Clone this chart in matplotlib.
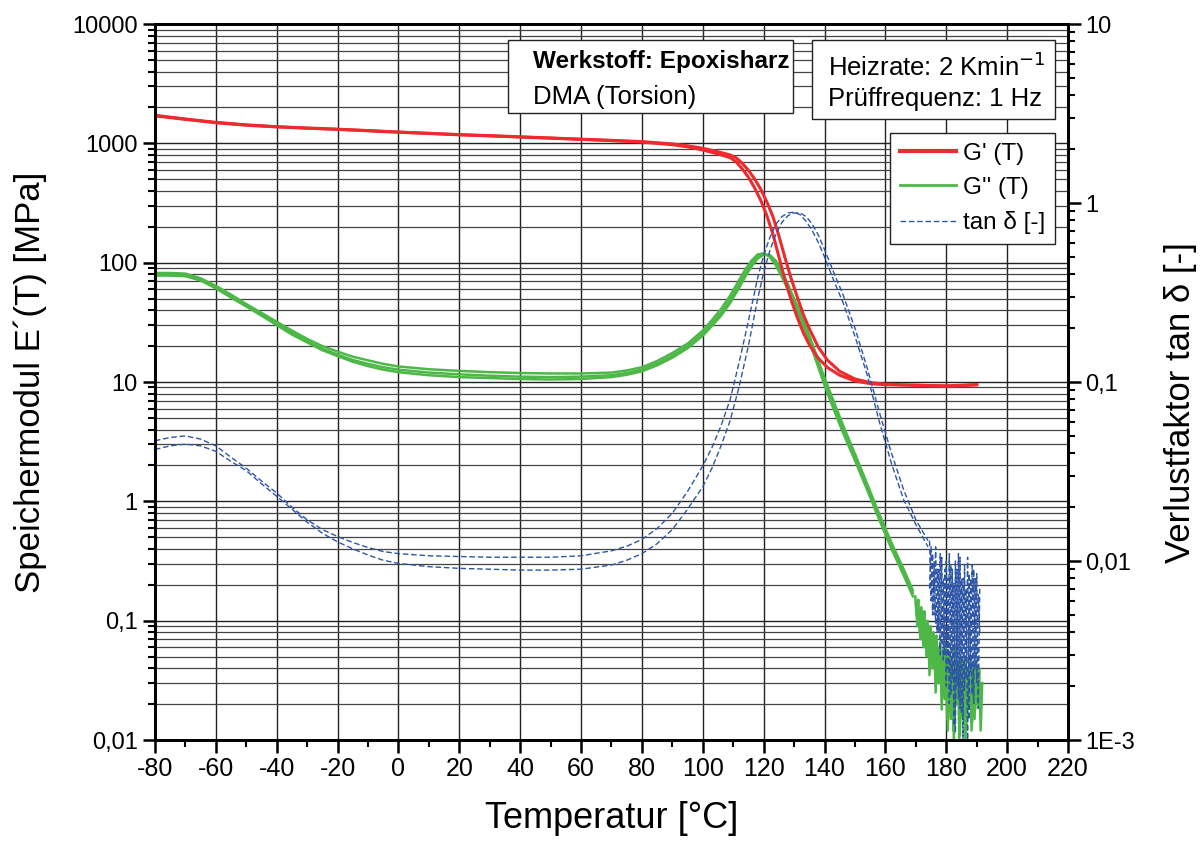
import matplotlib
matplotlib.use("Agg")
import matplotlib.pyplot as plt
from matplotlib.patches import Rectangle
from matplotlib.ticker import FixedLocator, FixedFormatter, LogLocator, NullFormatter

plt.rcParams["font.family"] = ["Liberation Sans", "DejaVu Sans"]
plt.rcParams["axes.unicode_minus"] = False

# G' (storage modulus), two runs
T_gp = [-80, -70, -60, -50, -40, -30, -20, -10, 0, 10, 20, 30, 40, 50, 60, 70, 80, 90, 95,
        100, 105, 109, 111, 113, 115, 117, 119, 121, 123, 125, 127, 129, 131, 133, 135, 138,
        141, 145, 150, 155, 160, 170, 180, 190]
gp_run1 = [1700, 1590, 1490, 1420, 1375, 1340, 1310, 1275, 1240, 1210, 1180, 1155, 1130, 1105,
           1080, 1055, 1025, 975, 935, 880, 815, 760, 700, 610, 520, 425, 335, 250, 175, 112,
           72, 49, 35, 26, 20.5, 15.8, 13.2, 11.4, 10.2, 9.7, 9.5, 9.4, 9.3, 9.5]
gp_run2 = [1720, 1600, 1500, 1430, 1380, 1345, 1315, 1280, 1245, 1215, 1185, 1160, 1135, 1110,
           1085, 1060, 1035, 990, 955, 910, 850, 800, 755, 680, 595, 505, 415, 325, 245, 168,
           110, 74, 52, 37, 28, 19.5, 15.2, 12.3, 10.6, 9.9, 9.6, 9.4, 9.2, 9.5]

# G'' (loss modulus), three runs
T_g = [-80, -75, -70, -65, -60, -55, -50, -45, -40, -35, -30, -25, -20, -15, -10, -5, 0, 10, 20,
       30, 40, 50, 60, 70, 75, 80, 85, 90, 95, 100, 103, 106, 109, 112, 114, 116, 118, 120, 122,
       124, 126, 128, 130, 132, 134, 136, 138, 140, 143, 146, 150, 154, 158, 162, 166, 169]
gpp_run1 = [82, 82, 81, 74, 64, 54, 45, 38, 32, 27, 23, 20, 18, 16.3, 15.2, 14.2, 13.5, 12.8,
            12.4, 12.1, 11.9, 11.8, 11.8, 12.0, 12.5, 13.3, 15.0, 17.5, 21, 27, 33, 41, 53, 72,
            88, 104, 117, 120, 112, 95, 76, 59, 45, 34, 25.5, 18.5, 13.2, 9.4, 5.9, 3.8, 2.2,
            1.25, 0.7, 0.4, 0.24, 0.16]
gpp_run2 = [80, 80, 79, 72, 62, 52, 44, 37, 31, 26, 22, 19, 17, 15.3, 14.2, 13.3, 12.7, 12.0,
            11.6, 11.3, 11.1, 11.0, 11.1, 11.4, 11.9, 12.7, 14.3, 16.6, 20, 25.5, 31, 38, 49,
            66, 81, 97, 112, 119, 114, 100, 81, 63, 48, 37, 27.5, 20, 14.4, 10.2, 6.5, 4.2,
            2.4, 1.35, 0.75, 0.43, 0.26, 0.17]
gpp_run3 = [78, 78, 77, 71, 61, 51, 43, 36, 30, 25, 21.5, 18.5, 16.5, 14.8, 13.6, 12.7, 12.1,
            11.4, 11.0, 10.8, 10.6, 10.5, 10.6, 11.0, 11.5, 12.3, 13.8, 16.0, 19.2, 24.5, 29.5,
            36, 46, 62, 77, 93, 108, 117, 116, 104, 85, 66, 50, 38.5, 28.5, 21, 15, 10.8, 6.9,
            4.4, 2.5, 1.4, 0.78, 0.45, 0.27, 0.18]
T_gn1 = [170, 170.5, 171, 171.5, 172, 172.5, 173, 173.5, 174, 174.5, 175, 175.5, 176, 176.5, 177,
         177.5, 178, 178.5, 179, 179.5, 180, 180.5, 181, 181.5, 182, 182.5, 183, 183.5, 184,
         184.5, 185, 185.5, 186, 186.5, 187, 187.5, 188, 188.5, 189, 189.5, 190, 190.5, 191]
gn_run1 = [0.14, 0.09, 0.12, 0.07, 0.11, 0.06, 0.10, 0.05, 0.09, 0.035, 0.08, 0.04, 0.07, 0.025,
           0.06, 0.03, 0.065, 0.018, 0.05, 0.022, 0.045, 0.012, 0.055, 0.015, 0.04, 0.01, 0.05,
           0.02, 0.045, 0.011, 0.04, 0.015, 0.05, 0.012, 0.035, 0.02, 0.045, 0.014, 0.04, 0.018,
           0.035, 0.02, 0.03]
T_gn2 = [169.8, 170.3, 170.8, 171.3, 171.8, 172.3, 172.8, 173.3, 173.8, 174.3, 174.8, 175.3,
         175.8, 176.3, 176.8, 177.3, 177.8, 178.3, 178.8, 179.3, 179.8, 180.3, 180.8, 181.3, 181.8,
         182.3, 182.8, 183.3, 183.8, 184.3, 184.8, 185.3, 185.8, 186.3, 186.8, 187.3, 187.8,
         188.3, 188.8, 189.3, 189.8, 190.3, 190.8, 191.3, 191.8]
gn_run2 = [0.16, 0.11, 0.15, 0.08, 0.13, 0.09, 0.12, 0.06, 0.10, 0.07, 0.09, 0.045, 0.08, 0.05,
           0.075, 0.03, 0.06, 0.04, 0.055, 0.025, 0.06, 0.015, 0.05, 0.03, 0.045, 0.012, 0.06,
           0.025, 0.04, 0.01, 0.05, 0.02, 0.045, 0.01, 0.04, 0.025, 0.05, 0.012, 0.035, 0.015,
           0.045, 0.02, 0.04, 0.012, 0.03]

# tan delta (loss factor), two runs
T_t = [-80, -75, -70, -65, -60, -55, -50, -45, -40, -35, -30, -25, -20, -15, -10, -5, 0, 10, 20,
       30, 40, 50, 60, 70, 75, 80, 85, 90, 95, 100, 103, 106, 109, 112, 115, 118, 120, 122, 124,
       126, 128, 130, 132, 134, 136, 138, 140, 143, 146, 150, 154, 158, 162, 166, 170, 174]
tan_run1 = [0.047, 0.049, 0.050, 0.048, 0.044, 0.038, 0.033, 0.028, 0.024, 0.020, 0.0170,
            0.0150, 0.0137, 0.0127, 0.0119, 0.0113, 0.0110, 0.0107, 0.0106, 0.0105, 0.0105,
            0.0105, 0.0107, 0.0114, 0.0121, 0.0132, 0.0152, 0.0185, 0.0245, 0.034, 0.043,
            0.057, 0.080, 0.13, 0.22, 0.38, 0.51, 0.64, 0.76, 0.84, 0.88, 0.89, 0.86, 0.79,
            0.70, 0.60, 0.50, 0.37, 0.28, 0.18, 0.11, 0.060, 0.035, 0.022, 0.016, 0.012]
tan_run2 = [0.042, 0.044, 0.045, 0.044, 0.041, 0.036, 0.032, 0.027, 0.023, 0.0195, 0.0165,
            0.0143, 0.0128, 0.0117, 0.0108, 0.0101, 0.0097, 0.0093, 0.0091, 0.0090, 0.0089,
            0.0089, 0.0090, 0.0095, 0.0101, 0.0110, 0.0125, 0.0150, 0.0195, 0.026, 0.033,
            0.044, 0.061, 0.095, 0.16, 0.29, 0.41, 0.54, 0.67, 0.78, 0.85, 0.88, 0.88, 0.84,
            0.76, 0.66, 0.55, 0.41, 0.31, 0.20, 0.12, 0.068, 0.040, 0.025, 0.017, 0.013]
T_tn = [174.5, 175, 175.5, 176, 176.5, 177, 177.5, 178, 178.5, 179, 179.5, 180, 180.5, 181,
        181.5, 182, 182.5, 183, 183.5, 184, 184.5, 185, 185.5, 186, 186.5, 187, 187.5, 188,
        188.5, 189, 189.5, 190, 190.5, 191]
tn_run1 = [0.007, 0.012, 0.005, 0.010, 0.0045, 0.009, 0.004, 0.011, 0.0035, 0.008, 0.003, 0.010,
           0.0025, 0.011, 0.0018, 0.009, 0.0012, 0.010, 0.002, 0.011, 0.0015, 0.008, 0.001,
           0.0095, 0.0022, 0.0105, 0.0013, 0.008, 0.0018, 0.009, 0.0025, 0.0085, 0.0015, 0.007]
tn_run2 = [0.013, 0.006, 0.011, 0.005, 0.012, 0.004, 0.009, 0.003, 0.0105, 0.0028, 0.009,
           0.002, 0.008, 0.0016, 0.0095, 0.0022, 0.0075, 0.0011, 0.009, 0.0017, 0.0105, 0.0014,
           0.008, 0.0019, 0.007, 0.001, 0.0085, 0.0024, 0.0095, 0.0016, 0.008, 0.0021, 0.0065,
           0.004]

left_ticks = [0.01, 0.1, 1, 10, 100, 1000, 10000]
left_labels = ["0,01", "0,1", "1", "10", "100", "1000", "10000"]
right_ticks = [0.001, 0.01, 0.1, 1, 10]
right_labels = ["1E-3", "0,01", "0,1", "1", "10"]
x_ticks = [-80, -60, -40, -20, 0, 20, 40, 60, 80, 100, 120, 140, 160, 180, 200, 220]

red = "#ee2a2e"
green = "#4db848"
blue = "#2e56a6"
dash = (0, (4, 2))

fig = plt.figure(figsize=(12.03, 8.44), dpi=100)
ax = fig.add_axes([0.1288, 0.1232, 0.759, 0.8483])
ax2 = ax.twinx()

ax.set_yscale("log")
ax.set_xlim(-80, 220)
ax.set_ylim(0.01, 10000)
ax2.set_yscale("log")
ax2.set_ylim(0.001, 10)

ax.plot(T_gp, gp_run1, color=red, lw=2.2, zorder=4)
ax.plot(T_gp, gp_run2, color=red, lw=2.2, zorder=4)
ax.plot(T_g, gpp_run1, color=green, lw=1.8, zorder=3)
ax.plot(T_g, gpp_run2, color=green, lw=1.8, zorder=3)
ax.plot(T_g, gpp_run3, color=green, lw=1.8, zorder=3)
ax.plot(T_gn1, gn_run1, color=green, lw=1.8, zorder=3)
ax.plot(T_gn2, gn_run2, color=green, lw=1.8, zorder=3)
ax2.plot(T_t, tan_run1, color=blue, lw=1.0, ls=dash)
ax2.plot(T_t, tan_run2, color=blue, lw=1.0, ls=dash)
ax2.plot(T_tn, tn_run1, color=blue, lw=1.0, ls=dash)
ax2.plot(T_tn, tn_run2, color=blue, lw=1.0, ls=dash)

# ticks and grid
ax.yaxis.set_major_locator(FixedLocator(left_ticks))
ax.yaxis.set_major_formatter(FixedFormatter(left_labels))
ax.yaxis.set_minor_locator(LogLocator(base=10, subs=range(2, 10), numticks=20))
ax.yaxis.set_minor_formatter(NullFormatter())
ax2.yaxis.set_major_locator(FixedLocator(right_ticks))
ax2.yaxis.set_major_formatter(FixedFormatter(right_labels))
ax2.yaxis.set_minor_locator(LogLocator(base=10, subs=range(2, 10), numticks=20))
ax2.yaxis.set_minor_formatter(NullFormatter())
ax.set_xticks(x_ticks)
ax.set_xticks(range(-70, 220, 20), minor=True)
ax.grid(True, which="major", axis="both", color="#222222", lw=1.0)
ax.grid(True, which="minor", axis="y", color="#444444", lw=0.9)
ax.set_axisbelow(True)

for a in (ax, ax2):
    for s in a.spines.values():
        s.set_linewidth(2.0)
ax.tick_params(axis="y", which="major", direction="out", length=9, width=1.8, labelsize=17)
ax.tick_params(axis="x", which="major", direction="out", length=9, width=1.8, labelsize=18)
ax.tick_params(axis="both", which="minor", direction="out", length=5, width=1.5)
ax2.tick_params(axis="y", which="major", direction="out", length=9, width=1.8, labelsize=17)
ax2.tick_params(axis="y", which="minor", direction="out", length=5, width=1.5)

ax.set_xlabel("Temperatur [°C]", fontsize=26, labelpad=14)
ax.set_ylabel("Speichermodul E´(T) [MPa]", fontsize=25, labelpad=18)
ax2.set_ylabel("Verlustfaktor tan δ [-]", fontsize=25, labelpad=20)
ax2.yaxis.set_label_coords(1.105, 0.472)

# legend
handles = [plt.Line2D([], [], color=red, lw=3),
           plt.Line2D([], [], color=green, lw=2),
           plt.Line2D([], [], color=blue, lw=1.0, ls=dash)]
leg = ax.legend(handles, ["G' (T)", "G'' (T)", "tan δ [-]"], loc="upper right",
                bbox_to_anchor=(0.9858, 0.8478), fontsize=17.5, frameon=True, fancybox=False,
                edgecolor="#222222", framealpha=1, handlelength=2.3, borderpad=0.4,
                labelspacing=0.5, handletextpad=0.3, borderaxespad=0)
leg.get_frame().set_linewidth(1.0)
leg.set_zorder(10)

# info boxes
ax.add_patch(Rectangle((0.3866, 0.8757), 0.3122, 0.102, transform=ax.transAxes,
                       fc="white", ec="#222222", lw=1.0, zorder=9))
ax.add_patch(Rectangle((0.7196, 0.8673), 0.2662, 0.1104, transform=ax.transAxes,
                       fc="white", ec="#222222", lw=1.0, zorder=9))
ax.text(0.414, 0.9473, "Werkstoff: Epoxisharz", transform=ax.transAxes, fontsize=17.5,
        fontweight="bold", va="center", ha="left", zorder=11)
ax.text(0.414, 0.8985, "DMA (Torsion)", transform=ax.transAxes, fontsize=18.5,
        va="center", ha="left", zorder=11)
ax.text(0.737, 0.9404, "Heizrate: 2 Kmin$^{-1}$", transform=ax.transAxes, fontsize=18.5,
        va="center", ha="left", zorder=11)
ax.text(0.737, 0.896, "Prüffrequenz: 1 Hz", transform=ax.transAxes, fontsize=18.5,
        va="center", ha="left", zorder=11)

fig.savefig("out.png", dpi=100)
